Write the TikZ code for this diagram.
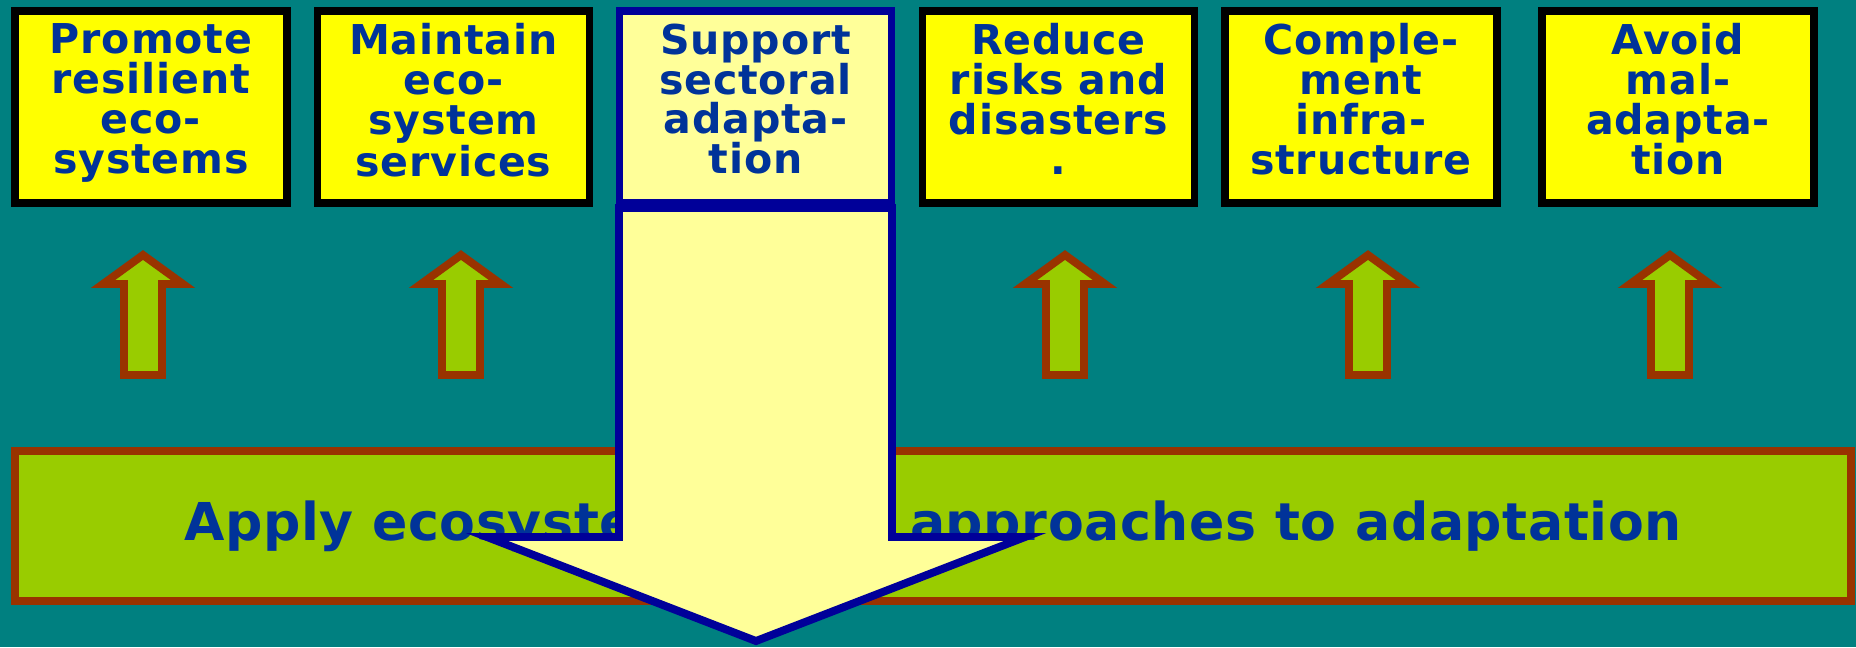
\documentclass[tikz,border=0pt]{standalone}
\usepackage{fontspec}
\usetikzlibrary{positioning}
\newfontfamily\boxfont{DejaVu Sans}[LetterSpace=2]
\newfontfamily\bandfont{DejaVu Sans}[LetterSpace=1.1]
\definecolor{bgteal}{HTML}{008080}
\definecolor{boxyellow}{HTML}{FFFF00}
\definecolor{paleyellow}{HTML}{FFFF99}
\definecolor{navy}{HTML}{000099}
\definecolor{textblue}{HTML}{003399}
\definecolor{leafgreen}{HTML}{99CC00}
\definecolor{rust}{HTML}{993300}

\begin{document}
\begin{tikzpicture}[x=0.02cm, y=-0.02cm,
    ybox/.style={draw=black, fill=boxyellow, line width=4.5pt, minimum width=5.44cm, minimum height=3.84cm, inner sep=0pt, outer sep=0pt},
    sbox/.style={ybox, draw=navy, fill=paleyellow},
    boxtext/.style={align=center, text=textblue, inner sep=0pt, font=\boxfont\bfseries\fontsize{23.4}{22.7}\selectfont},
    uparrow/.style={draw=rust, fill=leafgreen, line width=4.5pt},
    bigarrow/.style={draw=navy, fill=paleyellow, line width=4.5pt},
    band/.style={draw=rust, fill=leafgreen, line width=4.5pt, minimum width=36.72cm, minimum height=3cm, inner sep=0pt, text=textblue, font=\bandfont\bfseries\fontsize{29.7}{36}\selectfont}]

    % background
    \fill[bgteal] (0,0) rectangle (1856,647);
    \useasboundingbox (0,0) rectangle (1856,647);

    % bottom band
    \node[band] (band) at (933,526) {Apply ecosystem-based approaches to adaptation};

    % small arrows up
    \draw[uparrow] (143,255) -- ++(40,29) -- ++(-21,0) -- ++(0,91) -- ++(-38,0) -- ++(0,-91) -- ++(-21,0) -- cycle;
    \draw[uparrow] (461,255) -- ++(40,29) -- ++(-21,0) -- ++(0,91) -- ++(-38,0) -- ++(0,-91) -- ++(-21,0) -- cycle;
    \draw[uparrow] (1065,255) -- ++(40,29) -- ++(-21,0) -- ++(0,91) -- ++(-38,0) -- ++(0,-91) -- ++(-21,0) -- cycle;
    \draw[uparrow] (1368,255) -- ++(40,29) -- ++(-21,0) -- ++(0,91) -- ++(-38,0) -- ++(0,-91) -- ++(-21,0) -- cycle;
    \draw[uparrow] (1670,255) -- ++(40,29) -- ++(-21,0) -- ++(0,91) -- ++(-38,0) -- ++(0,-91) -- ++(-21,0) -- cycle;

    % top boxes
    \node[ybox] (promote) at (151,107) {};
    \node[ybox] (maintain) at (453.5,107) {};
    \node[ybox] (reduce) at (1058.5,107) {};
    \node[ybox] (complement) at (1361,107) {};
    \node[ybox] (avoid) at (1678,107) {};

    % big arrow down
    \draw[bigarrow] (619,208) -- (892,208) -- (892,537) -- (1025,537) -- (756,641) -- (487,537) -- (619,537) -- cycle;
    \node[sbox] (support) at (755.5,107) {};

    \node[boxtext, below=7pt of promote.north] (tpromote) {Promote\\resilient\\eco-\\systems};
    \node[boxtext, below=7pt of maintain.north] (tmaintain) {Maintain\\eco-\\system\\services};
    \node[boxtext, below=7pt of support.north] (tsupport) {Support\\sectoral\\adapta-\\tion};
    \node[boxtext, below=7pt of reduce.north] (treduce) {Reduce\\risks and\\disasters\\.};
    \node[boxtext, below=7pt of complement.north] (tcomplement) {Comple-\\ment\\infra-\\structure};
    \node[boxtext, below=7pt of avoid.north] (tavoid) {Avoid\\mal-\\adapta-\\tion};
\end{tikzpicture}
\end{document}
